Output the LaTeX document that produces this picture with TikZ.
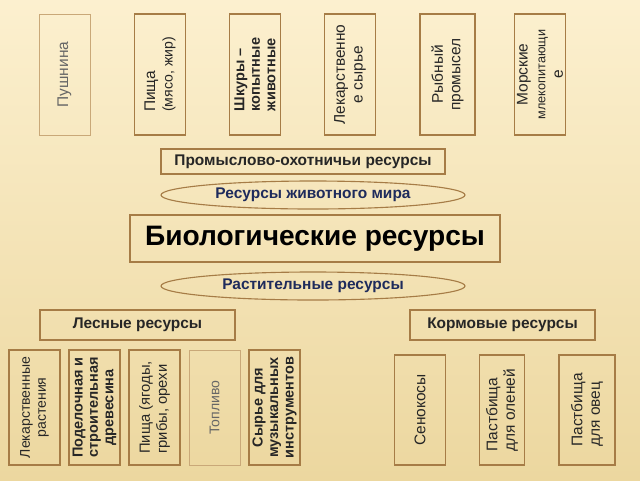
\documentclass[tikz,border=0pt]{standalone}
\usepackage{fontspec}
\setmainfont{Liberation Sans}
\usetikzlibrary{shapes.geometric}

\definecolor{frame}{HTML}{A67C46}
\definecolor{paleframe}{HTML}{C9A878}
\definecolor{navy}{HTML}{1E2B5C}
\definecolor{paper}{HTML}{FCF0CF}
\definecolor{paperdark}{HTML}{ECD79F}

\begin{document}
\begin{tikzpicture}[
    font=\fontsize{11}{12.5}\selectfont, % body text
    text=black!85
  ]

  \tikzstyle{tallbox}=[rectangle, draw=frame, line width=1.2pt, rotate=90, minimum width=3.025cm, minimum height=1.275cm, inner sep=1pt, align=center]
  \tikzstyle{lowbox}=[tallbox, minimum width=2.875cm]
  \tikzstyle{widebox}=[rectangle, draw=frame, line width=1.2pt, minimum height=0.75cm, font=\bfseries\fontsize{11}{12.5}\selectfont]
  \tikzstyle{oval}=[ellipse, draw=frame, line width=0.8pt, minimum width=7.6cm, minimum height=0.7cm, inner sep=0pt, text=navy, font=\bfseries\fontsize{11}{12.5}\selectfont]
  \tikzstyle{small}=[font=\bfseries\fontsize{10.3}{11}\selectfont]

  % background
  \shade[top color=paper, bottom color=paperdark] (0,0) rectangle (16,-12);
  \useasboundingbox (0,0) rectangle (16,-12);

  % animals: top row
  \node[tallbox, draw=paleframe, line width=0.6pt, text=black!60] (fur) at (1.6125,-1.8625) {Пушнина};
  \node[tallbox, align=left] (meat) at (4.0,-1.8625) {Пища\\{\fontsize{10}{11.5}\selectfont(мясо, жир)}};
  \node[tallbox, small, align=left] (hides) at (6.375,-1.8625) {Шкуры –\\копытные\\животные};
  \node[tallbox] (drugs) at (8.75,-1.8625) {Лекарственно\\е сырье};
  \node[tallbox, minimum height=1.375cm] (fish) at (11.1875,-1.8625) {Рыбный\\промысел};
  \node[tallbox] (seals) at (13.5,-1.8625) {Морские\\{\fontsize{9}{10.5}\selectfont млекопитающи}\\е};

  \node[widebox, minimum width=7.1cm, minimum height=0.625cm] (hunt) at (7.575,-4.0375) {Промыслово-охотничьи ресурсы};
  \node[oval] (fauna) at (7.825,-4.875) {Ресурсы животного мира};

  % centre
  \node[widebox, minimum width=9.25cm, minimum height=1.175cm, font=\bfseries\fontsize{20}{22}\selectfont, text=black] (bio) at (7.875,-5.9625) {Биологические ресурсы};

  \node[oval] (flora) at (7.825,-7.15) {Растительные ресурсы};

  % plants
  \node[widebox, minimum width=4.875cm] (forest) at (3.4375,-8.125) {Лесные ресурсы};
  \node[widebox, minimum width=4.625cm] (fodder) at (12.5625,-8.125) {Кормовые ресурсы};

  \node[lowbox, font=\fontsize{10}{11.5}\selectfont] (herbs) at (0.8625,-10.1875) {Лекарственные\\растения};
  \node[lowbox, small] (timber) at (2.3625,-10.1875) {Поделочная и\\строительная\\древесина};
  \node[lowbox, align=left, font=\fontsize{10.5}{12}\selectfont] (food) at (3.8625,-10.1875) {Пища (ягоды,\\грибы, орехи};
  \node[lowbox, draw=paleframe, line width=0.6pt, text=black!60, font=\fontsize{10}{11.5}\selectfont] (fuel) at (5.3625,-10.1875) {Топливо};
  \node[lowbox, small] (music) at (6.8625,-10.1875) {Сырье для\\музыкальных\\инструментов};

  \node[lowbox, minimum width=2.75cm] (hay) at (10.5,-10.25) {Сенокосы};
  \node[lowbox, minimum width=2.75cm, minimum height=1.125cm, align=left] (deer) at (12.55,-10.25) {Пастбища\\для оленей};
  \node[lowbox, minimum width=2.75cm, minimum height=1.4cm, align=left] (sheep) at (14.675,-10.25) {Пастбища\\для овец};

\end{tikzpicture}
\end{document}
